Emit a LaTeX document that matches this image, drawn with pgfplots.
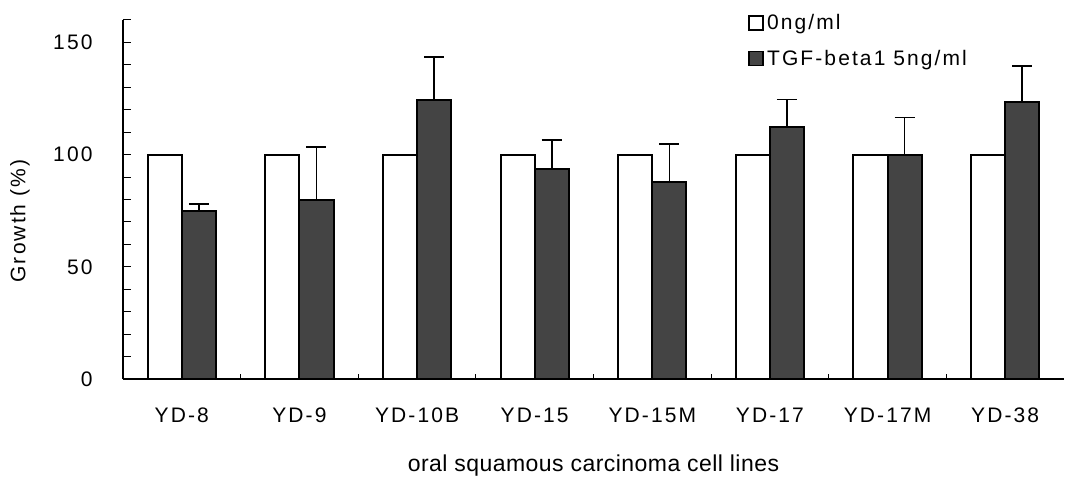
\documentclass[border=0pt]{standalone}
\usepackage{fontspec}
\setmainfont[LetterSpace=10]{Liberation Sans}
\newfontfamily\xlfont[LetterSpace=2]{Liberation Sans}
\usepackage{pgfplots}
\pgfplotsset{compat=1.18}
\definecolor{darkbar}{RGB}{68,68,68}
\pgfplotsset{sqlegend/.style={legend image code/.code={\draw[##1, line width=1.6bp] (0bp,-7bp) rectangle (14bp,7bp);}}}
\begin{document}
\begin{tikzpicture}
\begin{axis}[
  scale only axis,
  width=941bp, height=359bp,
  xmin=-0.5, xmax=7.5,
  ymin=0, ymax=160,
  axis x line=bottom, axis y line=left,
  axis line style={-, line width=1.3bp, black},
  ybar=0pt, bar width=0.29,
  xtick={0,...,7},
  xticklabels={YD-8,YD-9,YD-10B,YD-15,YD-15M,YD-17,YD-17M,YD-38},
  major x tick style={draw=none},
  minor xtick={0.5,1.5,...,6.5},
  minor tick length=5bp,
  ytick={0,10,...,160},
  yticklabels={0,,,,,50,,,,,100,,,,,150,},
  major tick length=8bp,
  tick align=inside,
  every tick/.style={black, line width=1bp},
  /pgf/number format/assume math mode=true,
  tick label style={font=\fontsize{21bp}{25bp}\selectfont},
  yticklabel style={anchor=east, xshift=-27bp},
  xticklabel style={anchor=base, yshift=-43bp},
  ylabel={Growth (\%)},
  ylabel style={at={(axis description cs:-0.1095,0.44)}, anchor=center, font=\fontsize{21bp}{25bp}\selectfont},
  xlabel={oral squamous carcinoma cell lines},
  xlabel style={at={(axis description cs:0.5,-0.2563)}, anchor=base, font=\xlfont\fontsize{23bp}{27bp}\selectfont},
  legend style={at={(axis description cs:0.6645,1.019)}, anchor=north west, draw=none, fill=none,
    font=\fontsize{21bp}{25bp}\selectfont, inner sep=0pt, row sep=17bp,
    nodes={inner sep=1bp, anchor=west}},
  legend cell align=left,
  clip=false,
]
\addplot[draw=black, fill=white, line width=2bp, sqlegend]
  coordinates {(0,100) (1,100) (2,100) (3,100) (4,100) (5,100) (6,100) (7,100)};
\addlegendentry{\hspace{2bp}0ng/ml}
\addplot[draw=black, fill=darkbar, line width=2bp, sqlegend,
  error bars/.cd, y dir=plus, y explicit,
  error bar style={line width=1.6bp, black},
  error mark options={rotate=90, line width=1.6bp, black, mark size=10bp}]
  coordinates {
    (0,75)    +- (0,3)
    (1,80)    +- (0,23.5)
    (2,124.5) +- (0,19)
    (3,93.5)  +- (0,13)
    (4,87.8)  +- (0,17)
    (5,112.5) +- (0,12)
    (6,100)   +- (0,16.5)
    (7,123.5) +- (0,16)
  };
\addlegendentry{\hspace{2bp}TGF-beta1 5ng/ml}
\end{axis}
\pgfresetboundingbox
\path (-123bp,-98bp) rectangle (942bp,379bp);
\end{tikzpicture}
\end{document}
